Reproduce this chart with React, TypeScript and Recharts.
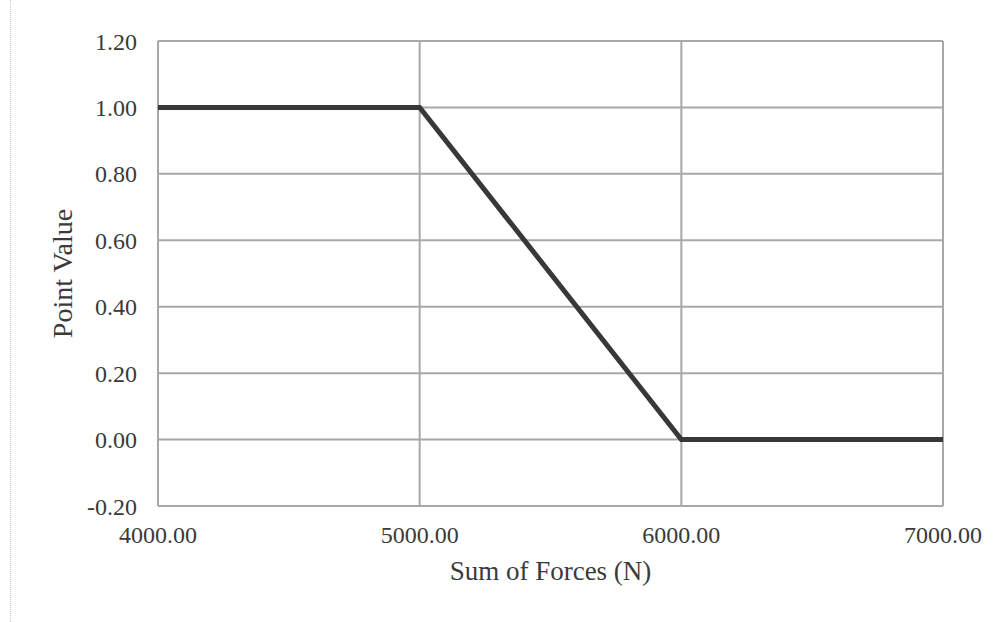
import React from 'react';
import {
  LineChart,
  Line,
  XAxis,
  YAxis,
  CartesianGrid,
} from 'recharts';

// values
const forces = [4000, 5000, 6000, 7000];
const pointValues = [1.0, 1.0, 0.0, 0.0];
const xTicks = [4000, 5000, 6000, 7000];
const yTicks = [-0.2, 0, 0.2, 0.4, 0.6, 0.8, 1.0, 1.2];

const data = forces.map((f, i) => ({ force: f, value: pointValues[i] }));

const FONT = '"Liberation Serif", "Times New Roman", serif';
const TEXT = '#3a3a3a';
const textStyle = { fontFamily: FONT, fontSize: 24, fill: TEXT };

const renderXTick = (props: any) => {
  const { x, y, payload } = props;
  return (
    <text x={x} y={y} dy="0.71em" textAnchor="middle" style={textStyle}>
      {Number(payload.value).toFixed(2)}
    </text>
  );
};

const renderYTick = (props: any) => {
  const { x, y, payload } = props;
  return (
    <text x={x} y={y} dy="0.355em" textAnchor="end" style={textStyle}>
      {Number(payload.value).toFixed(2)}
    </text>
  );
};

const App: React.FC = () => {
  return (
    <div
      style={{
        position: 'absolute',
        left: 0,
        top: 0,
        width: 1003,
        height: 622,
        background: '#fff',
        fontFamily: FONT,
      }}
    >
      <div
        style={{
          position: 'absolute',
          left: 10,
          top: 0,
          width: 0,
          height: 622,
          borderLeft: '1px dotted #c8c8c8',
        }}
      />
      <LineChart
        width={1003}
        height={622}
        data={data}
        margin={{ top: 41, right: 60, bottom: 0, left: 0 }}
      >
        <CartesianGrid stroke="#a8a8a8" strokeWidth={2} />
        <XAxis
          dataKey="force"
          type="number"
          domain={[4000, 7000]}
          ticks={xTicks}
          axisLine={false}
          tickLine={false}
          tickSize={0}
          tickMargin={20}
          height={116}
          tick={renderXTick}
          label={{
            value: 'Sum of Forces (N)',
            position: 'insideBottom',
            offset: 42,
            style: { fontSize: 27, fill: TEXT, fontFamily: FONT },
          }}
        />
        <YAxis
          type="number"
          domain={[-0.2, 1.2]}
          ticks={yTicks}
          axisLine={false}
          tickLine={false}
          tickSize={0}
          tickMargin={21}
          width={158}
          tick={renderYTick}
          label={{
            value: 'Point Value',
            angle: -90,
            position: 'insideLeft',
            offset: 62,
            style: {
              fontSize: 28,
              fill: TEXT,
              fontFamily: FONT,
              textAnchor: 'middle',
            },
          }}
        />
        <Line
          type="linear"
          dataKey="value"
          stroke="#383838"
          strokeWidth={5}
          dot={false}
          isAnimationActive={false}
        />
      </LineChart>
    </div>
  );
};

export default App;
